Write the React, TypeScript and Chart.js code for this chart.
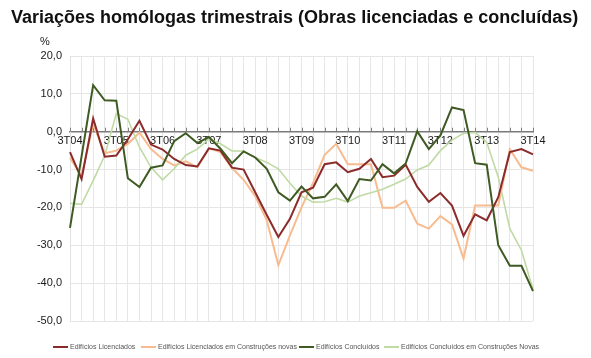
import React, { useEffect, useRef } from 'react';
import { Chart, registerables } from 'chart.js';

Chart.register(...registerables);

const quarters = [
  '3T04', '4T04', '1T05', '2T05', '3T05', '4T05', '1T06', '2T06', '3T06', '4T06',
  '1T07', '2T07', '3T07', '4T07', '1T08', '2T08', '3T08', '4T08', '1T09', '2T09',
  '3T09', '4T09', '1T10', '2T10', '3T10', '4T10', '1T11', '2T11', '3T11', '4T11',
  '1T12', '2T12', '3T12', '4T12', '1T13', '2T13', '3T13', '4T13', '1T14', '2T14',
  '3T14',
];

const licenciados = [
  -5.4, -12.5, 3.5, -6.6, -6.3, -2.0, 2.9, -3.4, -4.7, -7.2,
  -8.8, -9.2, -4.4, -5.0, -9.5, -10.0, -16.0, -22.0, -27.8, -23.0,
  -16.0, -14.8, -8.6, -8.1, -10.7, -9.8, -7.2, -12.0, -11.6, -8.7,
  -14.6, -18.5, -16.2, -19.5, -27.5, -21.8, -23.4, -17.3, -5.4, -4.6,
  -6.0,
];

const licenciadosNovas = [
  -6.9, -11.6, 2.0, -5.7, -5.0, -3.2, -0.2, -4.6, -7.2, -8.9,
  -7.8, -9.4, -4.4, -5.4, -9.6, -12.7, -17.0, -23.4, -35.3, -27.4,
  -20.0, -13.5, -6.1, -3.2, -8.6, -8.6, -8.6, -20.1, -20.1, -18.2,
  -24.3, -25.6, -22.3, -24.5, -33.5, -19.5, -19.5, -19.5, -4.6, -9.4,
  -10.3,
];

const concluidos = [
  -25.4, -6.5, 12.3, 8.3, 8.2, -12.3, -14.6, -9.5, -8.9, -2.5,
  -0.4, -3.0, -1.4, -4.5, -8.3, -5.2, -6.8, -9.8, -16.0, -18.2,
  -14.5, -17.6, -17.2, -13.9, -18.3, -12.5, -12.9, -8.6, -11.0, -8.4,
  0.1, -4.6, -1.0, 6.4, 5.7, -8.3, -8.7, -30.0, -35.4, -35.4,
  -42.1,
];

const concluidosNovas = [
  -18.9, -19.2, -12.9, -6.3, 4.8, 3.3, -4.1, -9.4, -12.7, -9.8,
  -6.2, -4.6, -1.9, -3.2, -5.1, -5.1, -6.8, -8.1, -9.8, -13.6,
  -17.0, -18.6, -18.5, -17.6, -18.6, -17.0, -16.1, -15.2, -13.9, -12.5,
  -10.1, -8.8, -5.0, -2.2, -0.4, -0.2, -2.8, -12.0, -25.6, -31.3,
  -41.7,
];

const seriesNames = [
  'Edifícios Licenciados',
  'Edifícios Licenciados em Construções novas',
  'Edifícios Concluídos',
  'Edifícios Concluídos em Construções Novas',
];

const seriesColors = ['#8b2b2b', '#f8bb8f', '#3f5a22', '#bfdaa3'];
const seriesWidths = [2, 2, 2, 1.6];

const yMin = -50;
const yMax = 20;
const yStep = 10;

const FONT = '"Liberation Sans", Arial, sans-serif';

const legendLefts = [53, 141, 299, 384];

const axisTickMarks = {
  id: 'axisTickMarks',
  beforeDatasetsDraw(chart: any) {
    const x = chart.scales.x;
    const y = chart.scales.y;
    const y0 = y.getPixelForValue(0);
    const ctx = chart.ctx;
    ctx.save();
    ctx.strokeStyle = '#808080';
    ctx.lineWidth = 1;
    for (let i = 0; i < x.ticks.length; i++) {
      const px = Math.round(x.getPixelForTick(i)) + 0.5;
      ctx.beginPath();
      ctx.moveTo(px, y0 - 4);
      ctx.lineTo(px, y0);
      ctx.stroke();
    }
    ctx.restore();
  },
};

export default function App() {
  const ref = useRef<HTMLCanvasElement | null>(null);

  useEffect(() => {
    if (!ref.current) return;
    const data = [licenciados, licenciadosNovas, concluidos, concluidosNovas];
    const orders = [1, 3, 0, 2];
    const chart = new Chart(ref.current, {
      type: 'line',
      data: {
        labels: quarters,
        datasets: data.map((d, i) => ({
          label: seriesNames[i],
          data: d,
          borderColor: seriesColors[i],
          backgroundColor: seriesColors[i],
          borderWidth: seriesWidths[i],
          pointRadius: 0,
          tension: 0,
          fill: false,
          order: orders[i],
        })),
      },
      options: {
        animation: false,
        responsive: false,
        maintainAspectRatio: false,
        layout: { padding: { left: 0, top: 56, right: 58, bottom: 37 } },
        plugins: {
          legend: { display: false },
          title: { display: false },
          tooltip: { enabled: false },
        },
        scales: {
          x: {
            type: 'category',
            position: { y: 0 } as any,
            offset: false,
            grid: { color: '#e6e6e6', lineWidth: 1, drawTicks: false, offset: false },
            border: { display: true, color: '#7a7a7a', width: 1.5 },
            ticks: {
              autoSkip: false,
              maxRotation: 0,
              minRotation: 0,
              padding: 3,
              color: '#1a1a1a',
              font: { family: FONT, size: 11 },
              callback: (_v: any, idx: number) => (idx % 4 === 0 ? quarters[idx] : ''),
            },
          },
          y: {
            min: yMin,
            max: yMax,
            afterFit: (scale: any) => {
              scale.width = 70;
            },
            grid: { color: '#e6e6e6', lineWidth: 1, drawTicks: false },
            border: { display: true, color: '#e0e0e0' },
            ticks: {
              stepSize: yStep,
              padding: 8,
              color: '#1a1a1a',
              font: { family: FONT, size: 11 },
              callback: (v: any) => Number(v).toFixed(1).replace('.', ','),
            },
          },
        },
      },
      plugins: [axisTickMarks],
    });
    return () => chart.destroy();
  }, []);

  return (
    <div
      style={{
        position: 'fixed',
        left: 0,
        top: 0,
        width: 591,
        height: 358,
        background: '#ffffff',
        overflow: 'hidden',
        fontFamily: FONT,
      }}
    >
      <canvas
        ref={ref}
        width={591}
        height={358}
        style={{ position: 'absolute', left: 0, top: 0, width: 591, height: 358 }}
      />
      <div
        style={{
          position: 'absolute',
          left: 11,
          top: 6,
          fontSize: 18,
          lineHeight: '22px',
          fontWeight: 'bold',
          color: '#111',
          whiteSpace: 'nowrap',
        }}
      >
        Variações homólogas trimestrais (Obras licenciadas e concluídas)
      </div>
      <div
        style={{
          position: 'absolute',
          left: 40,
          top: 35,
          fontSize: 11,
          lineHeight: '13px',
          color: '#1a1a1a',
        }}
      >
        %
      </div>
      {seriesNames.map((name, i) => (
        <div
          key={name}
          style={{
            position: 'absolute',
            left: legendLefts[i],
            top: 342,
            height: 10,
            display: 'flex',
            alignItems: 'center',
            whiteSpace: 'nowrap',
          }}
        >
          <span
            style={{
              display: 'inline-block',
              width: 15,
              height: 2,
              background: seriesColors[i],
              marginRight: 2,
            }}
          />
          <span style={{ fontSize: 7, color: '#555', lineHeight: '10px' }}>{name}</span>
        </div>
      ))}
    </div>
  );
}
